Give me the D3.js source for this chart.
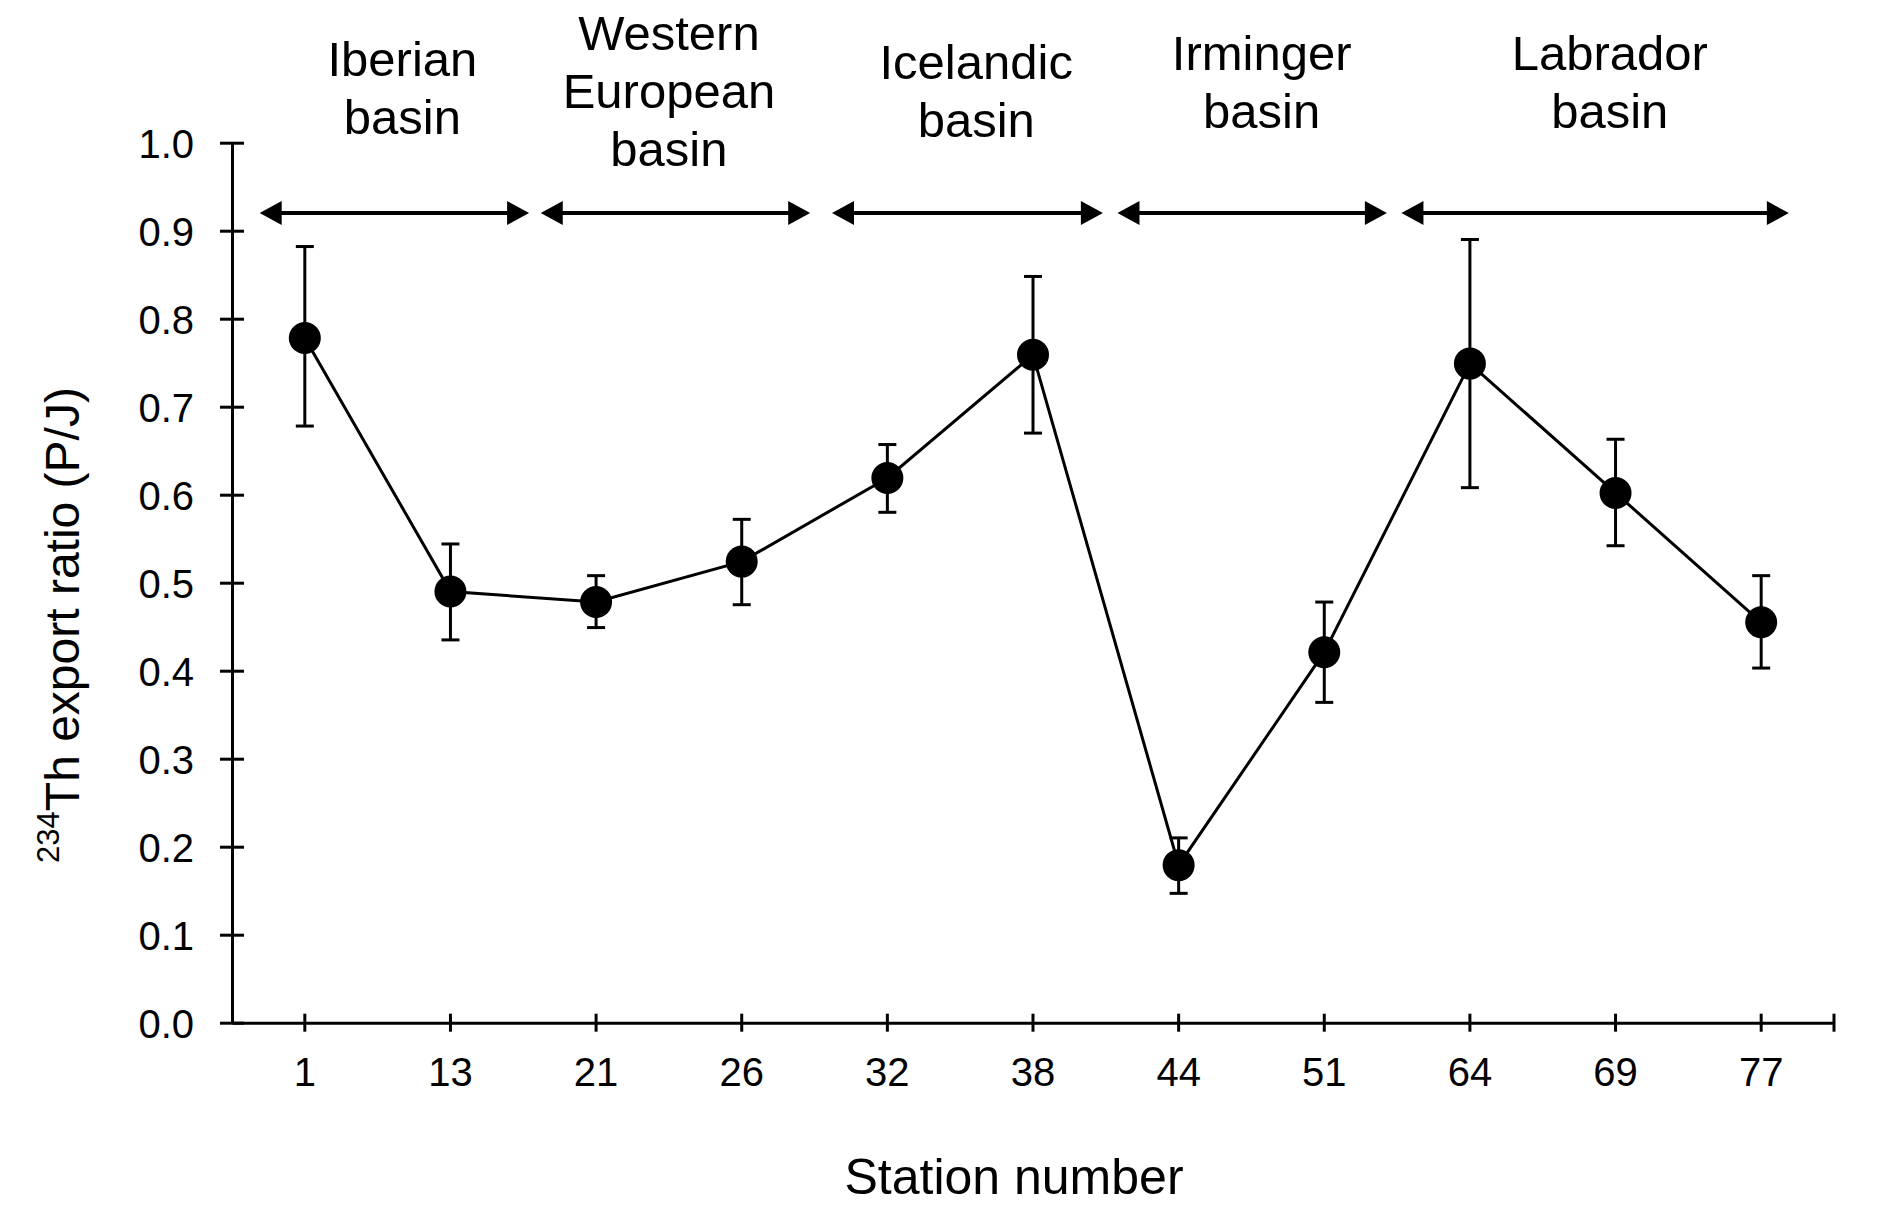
<!DOCTYPE html>
<html>
<head>
<meta charset="utf-8">
<script src="https://cdn.jsdelivr.net/npm/d3@7"></script>
<style>
  html, body { margin: 0; padding: 0; background: #fff; }
  svg { display: block; }
  text { font-family: "Liberation Sans", Arial, Helvetica, sans-serif; fill: #000; }
</style>
</head>
<body>
<svg id="chart" width="1898" height="1220"></svg>
<script>
// ---- data ----
const stations = ["1", "13", "21", "26", "32", "38", "44", "51", "64", "69", "77"];
const ratio    = [0.778, 0.490, 0.478, 0.524, 0.619, 0.759, 0.179, 0.421, 0.749, 0.602, 0.455];
const errHigh  = [0.882, 0.544, 0.508, 0.572, 0.657, 0.848, 0.210, 0.478, 0.890, 0.663, 0.508];
const errLow   = [0.678, 0.435, 0.449, 0.475, 0.580, 0.670, 0.147, 0.364, 0.608, 0.542, 0.403];
const yTicks   = [0, 0.1, 0.2, 0.3, 0.4, 0.5, 0.6, 0.7, 0.8, 0.9, 1.0];
const basinLines = [["Iberian", "basin"], ["Western", "European", "basin"], ["Icelandic", "basin"], ["Irminger", "basin"], ["Labrador", "basin"]];
// basin extents, in station-slot units (0 = left edge of the station axis, 11 = right edge)
const basinStart = [0.19, 2.12, 4.12, 6.08, 8.03];
const basinEnd   = [2.04, 3.97, 5.98, 7.93, 10.69];
const basinLabelAt = [1.17, 3.0, 5.11, 7.07, 9.46];
const arrowLevel = 0.92;

// ---- layout ----
const svg = d3.select("#chart");
const plotLeft = 232, plotRight = 1834, plotTop = 142.7, plotBottom = 1022.7;
const x = d3.scaleBand().domain(stations).range([plotLeft, plotRight]).padding(0);
const xc = s => x(s) + x.bandwidth() / 2;
const xu = d3.scaleLinear().domain([0, stations.length]).range([plotLeft, plotRight]);
const y = d3.scaleLinear().domain([0, 1]).range([plotBottom, plotTop]);
const SW = 3;
const labelFirstBaseline = [76, 50, 79, 70, 70];
const lineGap = 58;
const FONT = '"Liberation Sans", Arial, sans-serif';

// y axis
const gy = svg.append("g").attr("transform", `translate(${plotLeft},0)`)
  .call(d3.axisLeft(y).tickValues(yTicks).tickFormat(d3.format(".1f")).tickSizeOuter(0));
gy.select(".domain").attr("stroke", "#000").attr("stroke-width", SW);
gy.selectAll(".tick line").attr("x1", -12).attr("x2", 12).attr("stroke", "#000").attr("stroke-width", SW);
gy.selectAll(".tick text").attr("x", -38).attr("dy", "0.36em").attr("fill", "#000")
  .style("font-size", "40px").style("font-family", FONT);

// x axis
const gx = svg.append("g").attr("transform", `translate(0,${plotBottom})`)
  .call(d3.axisBottom(x).tickSizeOuter(0));
gx.select(".domain").attr("stroke", "#000").attr("stroke-width", SW);
gx.selectAll(".tick line").attr("y1", -9).attr("y2", 9).attr("stroke", "#000").attr("stroke-width", SW);
gx.selectAll(".tick text").attr("y", 63).attr("dy", 0).attr("fill", "#000")
  .style("font-size", "40px").style("font-family", FONT);
gx.append("line").attr("x1", plotRight).attr("x2", plotRight).attr("y1", -9).attr("y2", 9)
  .attr("stroke", "#000").attr("stroke-width", SW);

// axis titles
svg.append("text").attr("x", 1014).attr("y", 1194).attr("text-anchor", "middle")
  .style("font-size", "50px").text("Station number");

const yl = svg.append("text").attr("transform", "translate(72,625) rotate(-90)")
  .attr("text-anchor", "middle").style("font-size", "48px");
yl.append("tspan").attr("dy", "-0.42em").style("font-size", "31px").text("234");
yl.append("tspan").attr("dy", "0.42em").text("Th export ratio (P/J)");

// basin arrows and labels
const arrowG = svg.append("g");
basinLines.forEach((lines, i) => {
  const x0 = xu(basinStart[i]), x1 = xu(basinEnd[i]), ya = y(arrowLevel);
  const hl = 22, hw = 12;
  arrowG.append("line").attr("x1", x0 + hl - 2).attr("x2", x1 - hl + 2).attr("y1", ya).attr("y2", ya)
    .attr("stroke", "#000").attr("stroke-width", 4);
  arrowG.append("path").attr("d", `M${x0},${ya}L${x0 + hl},${ya - hw}L${x0 + hl},${ya + hw}Z`).attr("fill", "#000");
  arrowG.append("path").attr("d", `M${x1},${ya}L${x1 - hl},${ya - hw}L${x1 - hl},${ya + hw}Z`).attr("fill", "#000");
  const cx = xu(basinLabelAt[i]);
  const t = svg.append("text").attr("text-anchor", "middle").style("font-size", "49px");
  lines.forEach((ln, j) => {
    t.append("tspan").attr("x", cx).attr("y", labelFirstBaseline[i] + j * lineGap).text(ln);
  });
});

// series line
const pts = stations.map((s, i) => ({ s, v: ratio[i], hi: errHigh[i], lo: errLow[i] }));
svg.append("path").datum(pts)
  .attr("d", d3.line().x(d => xc(d.s)).y(d => y(d.v)))
  .attr("fill", "none").attr("stroke", "#000").attr("stroke-width", SW);

// error bars
const eb = svg.append("g").attr("stroke", "#000").attr("stroke-width", SW);
pts.forEach(d => {
  const cx = xc(d.s);
  eb.append("line").attr("x1", cx).attr("x2", cx).attr("y1", y(d.hi)).attr("y2", y(d.lo));
  eb.append("line").attr("x1", cx - 9).attr("x2", cx + 9).attr("y1", y(d.hi)).attr("y2", y(d.hi));
  eb.append("line").attr("x1", cx - 9).attr("x2", cx + 9).attr("y1", y(d.lo)).attr("y2", y(d.lo));
});

// markers
svg.append("g").selectAll("circle").data(pts).join("circle")
  .attr("cx", d => xc(d.s)).attr("cy", d => y(d.v)).attr("r", 16).attr("fill", "#000");
</script>
</body>
</html>
